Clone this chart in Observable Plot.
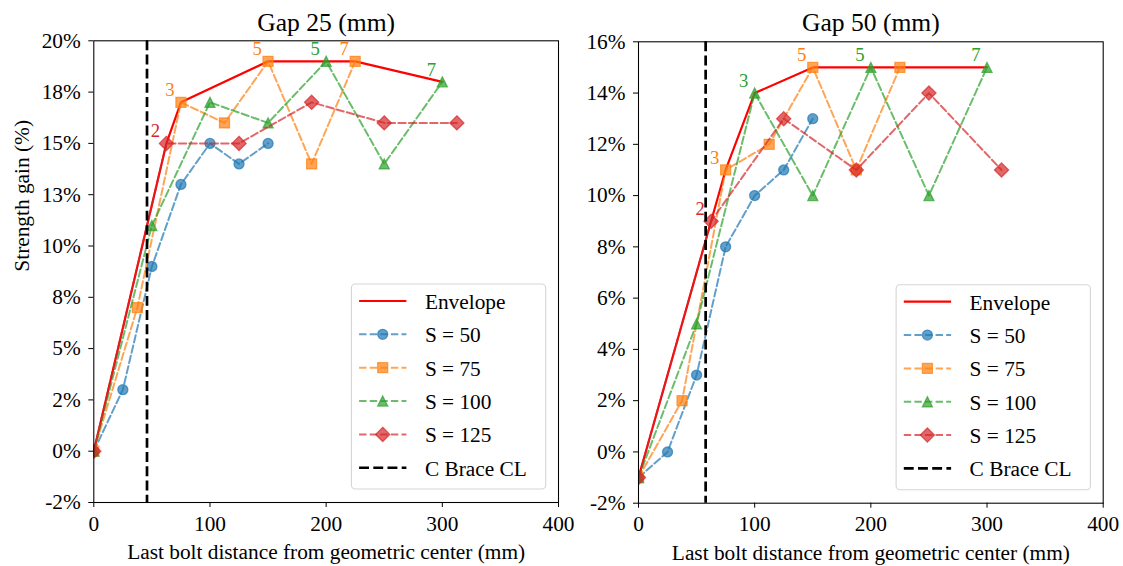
<!DOCTYPE html>
<html><head><meta charset="utf-8">
<script src="https://cdn.jsdelivr.net/npm/d3@7"></script>
<script src="https://cdn.jsdelivr.net/npm/@observablehq/plot@0.6"></script>
<style>
body{margin:0;background:#fff;}
#wrap{position:relative;width:1123px;height:566px;overflow:hidden;background:#fff;}
</style></head><body><div id="wrap"></div>
<script>
// ---------- data ----------
const xTicks = [0, 100, 200, 300, 400];
const seriesNames = ["S = 50", "S = 75", "S = 100", "S = 125"];
const seriesColors = ["#1f77b4", "#ff7f0e", "#2ca02c", "#d62728"];

const s50X = [0, 25, 50, 75, 100, 125, 150];
const s75X = [0, 37.5, 75, 112.5, 150, 187.5, 225];
const s100X = [0, 50, 100, 150, 200, 250, 300];
const s125X = [0, 62.5, 125, 187.5, 250, 312.5];

// Gap 25
const gap25S50 = [0, 3, 9, 13, 15, 14, 15];
const gap25S75 = [0, 7, 17, 16, 19, 14, 19];
const gap25S100 = [0, 11, 17, 16, 19, 14, 18];
const gap25S125 = [0, 15, 15, 17, 16, 16];
const gap25EnvX = [0, 62.5, 75, 150, 225, 300];
const gap25EnvY = [0, 15, 17, 19, 19, 18];
const gap25Brace = 45.8;
const gap25NoteX = [62.5, 75, 150, 200, 225, 300];
const gap25NoteY = [15, 17, 19, 19, 19, 18];
const gap25NoteText = ["2", "3", "5", "5", "7", "7"];
const gap25NoteSeries = [3, 1, 1, 2, 1, 2];
const gap25YTicks = [-2.5, 0, 2.5, 5, 7.5, 10, 12.5, 15, 17.5, 20];
const gap25YLabels = ["-2%", "0%", "2%", "5%", "8%", "10%", "13%", "15%", "18%", "20%"];

// Gap 50
const gap50S50 = [-1, 0, 3, 8, 10, 11, 13];
const gap50S75 = [-1, 2, 11, 12, 15, 11, 15];
const gap50S100 = [-1, 5, 14, 10, 15, 10, 15];
const gap50S125 = [-1, 9, 13, 11, 14, 11];
const gap50EnvX = [0, 62.5, 75, 100, 150, 300];
const gap50EnvY = [-1, 9, 11, 14, 15, 15];
const gap50Brace = 57.8;
const gap50NoteX = [62.5, 75, 100, 150, 200, 300];
const gap50NoteY = [9, 11, 14, 15, 15, 15];
const gap50NoteText = ["2", "3", "3", "5", "5", "7"];
const gap50NoteSeries = [3, 1, 2, 1, 2, 2];
const gap50YTicks = [-2, 0, 2, 4, 6, 8, 10, 12, 14, 16];
const gap50YLabels = ["-2%", "0%", "2%", "4%", "6%", "8%", "10%", "12%", "14%", "16%"];

// ---------- symbols (matplotlib-like) ----------
const mSym = fn => ({draw(c, size) { const m = 2 * Math.sqrt(size / Math.PI); fn(c, m); }});
const symCircle = mSym((c, m) => { c.moveTo(m / 2, 0); c.arc(0, 0, m / 2, 0, 2 * Math.PI); });
const symSquare = mSym((c, m) => { c.rect(-m / 2, -m / 2, m, m); });
const symTriangle = mSym((c, m) => { c.moveTo(0, -m / 2); c.lineTo(m / 2, m / 2); c.lineTo(-m / 2, m / 2); c.closePath(); });
const symDiamond = mSym((c, m) => { const h = m / Math.SQRT2; c.moveTo(0, -h); c.lineTo(h, 0); c.lineTo(0, h); c.lineTo(-h, 0); c.closePath(); });
const seriesSymbols = [symCircle, symSquare, symTriangle, symDiamond];

const FONT = "'Liberation Serif','Times New Roman',Times,serif";
const FS = 21.33;
const MR = 5;

function zip(xs, ys) { return xs.map((x, i) => ({x, y: ys[i]})); }

function panel(cfg) {
  const W = cfg.width, H = 566;
  const marks = [];
  marks.push(Plot.line(zip(cfg.envX, cfg.envY), {x: "x", y: "y", stroke: "red", strokeWidth: 2.2, clip: true}));
  cfg.series.forEach((ys, i) => {
    const data = zip([s50X, s75X, s100X, s125X][i], ys);
    marks.push(Plot.line(data, {x: "x", y: "y", stroke: seriesColors[i], strokeWidth: 2, strokeDasharray: "7.4,3.2", strokeOpacity: 0.7, clip: true}));
    marks.push(Plot.dot(data, {x: "x", y: "y", symbol: seriesSymbols[i], r: MR, fill: seriesColors[i], fillOpacity: 0.7, stroke: seriesColors[i], strokeOpacity: 0.7, strokeWidth: 1.3, clip: true}));
  });
  marks.push(Plot.ruleX([cfg.brace], {stroke: "black", strokeWidth: 2.7, strokeDasharray: "9.9,4.3"}));
  cfg.noteX.forEach((x, i) => {
    marks.push(Plot.text([{x, y: cfg.noteY[i], t: cfg.noteText[i]}], {x: "x", y: "y", text: "t", fill: seriesColors[cfg.noteSeries[i]], dx: -11, dy: -12, fontSize: 18.7}));
  });
  marks.push(Plot.frame({stroke: "black", strokeWidth: 1.07}));
  marks.push(Plot.axisX({ticks: xTicks, tickSize: 5, tickPadding: 8, fontSize: FS, label: null, tickFormat: d => String(d)}));
  marks.push(Plot.axisY({ticks: cfg.yTicks, tickSize: 5, tickPadding: 8, fontSize: FS, label: null, tickFormat: d => cfg.yLabels[cfg.yTicks.indexOf(d)]}));
  marks.push(Plot.text([cfg.title], {frameAnchor: "top", lineAnchor: "bottom", dy: 30 - cfg.mt, fontSize: 25.6}));
  marks.push(Plot.text(["Last bolt distance from geometric center (mm)"], {frameAnchor: "bottom", lineAnchor: "bottom", dy: 56.3, fontSize: FS}));
  if (cfg.yLabel) marks.push(Plot.text([cfg.yLabel], {frameAnchor: "left", rotate: -90, dx: 21.7 - cfg.ml, fontSize: FS}));

  const svg = Plot.plot({
    width: W, height: H,
    marginLeft: cfg.ml, marginRight: cfg.mr, marginTop: cfg.mt, marginBottom: cfg.mb,
    x: {domain: [0, 400], label: null},
    y: {domain: cfg.yDomain, label: null},
    style: `position:absolute;top:0;left:${cfg.left}px;overflow:visible;background:transparent;font-family:${FONT};font-size:${FS}px;color:black;`,
    marks
  });

  // legend
  const fr = W - cfg.mr, fb = H - cfg.mb;
  const bw = 194.3, bh = 205;
  const bx = fr - 12.3 - bw, by = fb - 13 - bh;
  const g = d3.select(svg).append("g").attr("font-family", FONT).attr("font-size", FS).attr("text-anchor", "start");
  g.append("rect").attr("x", bx).attr("y", by).attr("width", bw).attr("height", bh).attr("rx", 4)
    .attr("fill", "white").attr("fill-opacity", 0.8).attr("stroke", "#d5d5d5").attr("stroke-width", 1.1);
  const names = ["Envelope", ...seriesNames, "C Brace CL"];
  names.forEach((name, k) => {
    const ry = by + 17 + k * 33.35;
    const x0 = bx + 7.7, x1 = bx + 55, xm = bx + 31.3;
    const ln = g.append("line").attr("x1", x0).attr("x2", x1).attr("y1", ry).attr("y2", ry);
    if (k === 0) ln.attr("stroke", "red").attr("stroke-width", 2.2);
    else if (k === 5) ln.attr("stroke", "black").attr("stroke-width", 2.7).attr("stroke-dasharray", "9.9,4.3");
    else {
      const i = k - 1;
      ln.attr("stroke", seriesColors[i]).attr("stroke-width", 2).attr("stroke-dasharray", "7.4,3.2").attr("stroke-opacity", 0.7);
      g.append("path").attr("transform", `translate(${xm},${ry})`)
        .attr("d", d3.symbol(seriesSymbols[i], MR * MR * Math.PI)())
        .attr("fill", seriesColors[i]).attr("fill-opacity", 0.7)
        .attr("stroke", seriesColors[i]).attr("stroke-opacity", 0.7).attr("stroke-width", 1.3);
    }
    g.append("text").attr("x", bx + 73.5).attr("y", ry + 8).attr("fill", "black").attr("text-anchor", "start").text(name);
  });
  return svg;
}

const wrap = document.getElementById("wrap");
wrap.appendChild(panel({
  left: 0, width: 561, ml: 93.3, mr: 3, mt: 40.3, mb: 64,
  yDomain: [-2.5, 20], yTicks: gap25YTicks, yLabels: gap25YLabels,
  title: "Gap 25 (mm)", yLabel: "Strength gain (%)",
  series: [gap25S50, gap25S75, gap25S100, gap25S125],
  envX: gap25EnvX, envY: gap25EnvY, brace: gap25Brace,
  noteX: gap25NoteX, noteY: gap25NoteY, noteText: gap25NoteText, noteSeries: gap25NoteSeries
}));
wrap.appendChild(panel({
  left: 561, width: 562, ml: 77, mr: 20.3, mt: 41.3, mb: 63.3,
  yDomain: [-2, 16], yTicks: gap50YTicks, yLabels: gap50YLabels,
  title: "Gap 50 (mm)", yLabel: null,
  series: [gap50S50, gap50S75, gap50S100, gap50S125],
  envX: gap50EnvX, envY: gap50EnvY, brace: gap50Brace,
  noteX: gap50NoteX, noteY: gap50NoteY, noteText: gap50NoteText, noteSeries: gap50NoteSeries
}));
</script></body></html>
